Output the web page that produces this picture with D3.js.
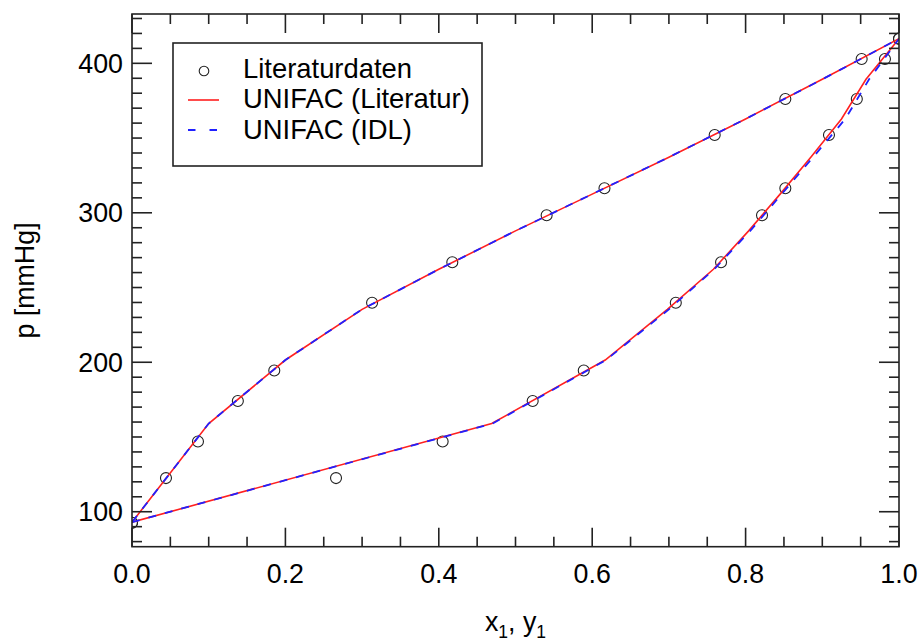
<!DOCTYPE html>
<html>
<head>
<meta charset="utf-8">
<script src="https://cdn.jsdelivr.net/npm/d3@7"></script>
<style>
  html, body { margin: 0; padding: 0; background: #fff; }
  svg { display: block; font-family: "Liberation Sans", Arial, Helvetica, sans-serif; }
</style>
</head>
<body>
<svg id="chart" width="919" height="644"></svg>
<script>
// ---- data ----
const litX = [0.0, 0.0443, 0.086, 0.138, 0.1855, 0.313, 0.4176, 0.5406, 0.616, 0.7597, 0.8518, 0.9513, 1.0];
const litY = [0.0, 0.266, 0.405, 0.5224, 0.589, 0.709, 0.768, 0.8214, 0.8518, 0.9087, 0.945, 0.9817, 1.0];
const litP = [92.6, 122.5, 147.0, 174.1, 194.5, 239.8, 266.9, 298.4, 316.4, 352.0, 376.1, 402.9, 416.5];

const nodeX1 = [0.0, 0.1, 0.2, 0.3, 0.4, 0.5, 0.6, 0.7, 0.8, 0.9, 1.0];
const uniLitP = [93.0, 159.0, 201.5, 235.4, 262.2, 287.9, 312.5, 337.2, 362.8, 389.3, 416.5];
const uniLitY1 = [0.0, 0.469, 0.617, 0.698, 0.758, 0.804, 0.845, 0.885, 0.925, 0.957, 1.0];
const uniIdlP = [93.0, 159.0, 201.5, 235.4, 262.2, 287.9, 312.5, 337.2, 362.8, 389.3, 416.5];
const uniIdlY1 = [0.0, 0.470, 0.618, 0.700, 0.759, 0.806, 0.847, 0.888, 0.930, 0.961, 1.0];

const xTickVals = [0.0, 0.2, 0.4, 0.6, 0.8, 1.0];
const xTickLabels = ["0.0", "0.2", "0.4", "0.6", "0.8", "1.0"];
const yTickVals = [100, 200, 300, 400];
const yTickLabels = ["100", "200", "300", "400"];
const legendLabels = ["Literaturdaten", "UNIFAC (Literatur)", "UNIFAC (IDL)"];

// ---- layout ----
const L = 132, R = 899, T = 14, B = 546.7;
const svg = d3.select("#chart");
const x = d3.scaleLinear().domain([0, 1]).range([L, R]);
const y = d3.scaleLinear().domain([76.6, 433.0]).range([B, T]);
const FS = 26.8;
const axisColor = "#222";

svg.append("defs").append("clipPath").attr("id", "clip")
  .append("rect").attr("x", L).attr("y", T).attr("width", R - L).attr("height", B - T);

const plot = svg.append("g").attr("clip-path", "url(#clip)");

const line = d3.line().x(d => x(d[0])).y(d => y(d[1]));

// data circles
const circ = plot.append("g");
litX.forEach((v, i) => {
  circ.append("circle").attr("cx", x(v)).attr("cy", y(litP[i])).attr("r", 5.5)
    .attr("fill", "none").attr("stroke", "#222").attr("stroke-width", 1.1);
});
litY.forEach((v, i) => {
  circ.append("circle").attr("cx", x(v)).attr("cy", y(litP[i])).attr("r", 5.5)
    .attr("fill", "none").attr("stroke", "#222").attr("stroke-width", 1.1);
});

// UNIFAC (Literatur) red
const redBubble = nodeX1.map((v, i) => [v, uniLitP[i]]);
const redDew = uniLitY1.map((v, i) => [v, uniLitP[i]]);
[redBubble, redDew].forEach(pts => {
  plot.append("path").attr("d", line(pts)).attr("fill", "none")
    .attr("stroke", "#ff2020").attr("stroke-width", 1.6);
});
// UNIFAC (IDL) blue dashed
const blueBubble = nodeX1.map((v, i) => [v, uniIdlP[i]]);
const blueDew = uniIdlY1.map((v, i) => [v, uniIdlP[i]]);
[blueBubble, blueDew].forEach(pts => {
  plot.append("path").attr("d", line(pts)).attr("fill", "none")
    .attr("stroke", "#2020ff").attr("stroke-width", 1.8).attr("stroke-dasharray", "8,9");
});

// ---- axes ----
const ax = svg.append("g").attr("stroke", axisColor).attr("stroke-width", 1.6);
ax.append("rect").attr("x", L).attr("y", T).attr("width", R - L).attr("height", B - T).attr("fill", "none");

const xMinor = d3.range(0, 1.0001, 0.05);
xMinor.forEach(v => {
  const isMajor = Math.abs(v * 5 - Math.round(v * 5)) < 1e-6;
  const len = isMajor ? 19 : 10;
  ax.append("line").attr("x1", x(v)).attr("x2", x(v)).attr("y1", B).attr("y2", B - len);
  ax.append("line").attr("x1", x(v)).attr("x2", x(v)).attr("y1", T).attr("y2", T + len);
});
const yMinor = d3.range(80, 431, 10);
yMinor.forEach(v => {
  const isMajor = v % 100 === 0;
  const len = isMajor ? 20 : 10;
  ax.append("line").attr("x1", L).attr("x2", L + len).attr("y1", y(v)).attr("y2", y(v));
  ax.append("line").attr("x1", R).attr("x2", R - len).attr("y1", y(v)).attr("y2", y(v));
});

const lab = svg.append("g").attr("fill", "#000").attr("font-size", FS);
xTickVals.forEach((v, i) => {
  lab.append("text").attr("x", x(v)).attr("y", 583).attr("text-anchor", "middle").text(xTickLabels[i]);
});
yTickVals.forEach((v, i) => {
  lab.append("text").attr("x", 123).attr("y", y(v) + 9.5).attr("text-anchor", "end").text(yTickLabels[i]);
});

// axis titles
const xt = lab.append("text").attr("x", 515.5).attr("y", 631).attr("text-anchor", "middle");
xt.append("tspan").text("x");
xt.append("tspan").attr("font-size", 17.5).attr("dy", 7).text("1");
xt.append("tspan").attr("dy", -7).text(", y");
xt.append("tspan").attr("font-size", 17.5).attr("dy", 7).text("1");

lab.append("text").attr("transform", "translate(34,280.5) rotate(-90)").attr("text-anchor", "middle").text("p [mmHg]");

// ---- legend ----
const lg = svg.append("g");
lg.append("rect").attr("x", 173).attr("y", 43).attr("width", 309).attr("height", 123)
  .attr("fill", "#fff").attr("stroke", axisColor).attr("stroke-width", 1.6);
lg.append("circle").attr("cx", 204).attr("cy", 71).attr("r", 4.8).attr("fill", "none")
  .attr("stroke", "#222").attr("stroke-width", 1.1);
lg.append("line").attr("x1", 188).attr("x2", 219).attr("y1", 100).attr("y2", 100)
  .attr("stroke", "#ff2020").attr("stroke-width", 1.6);
lg.append("line").attr("x1", 188).attr("x2", 219).attr("y1", 130).attr("y2", 130)
  .attr("stroke", "#2020ff").attr("stroke-width", 1.8).attr("stroke-dasharray", "7.5,14");
const lgBase = [77.5, 108, 138.5];
legendLabels.forEach((t, i) => {
  lg.append("text").attr("x", 243).attr("y", lgBase[i]).attr("font-size", 27.4).attr("fill", "#000").text(t);
});
</script>
</body>
</html>
